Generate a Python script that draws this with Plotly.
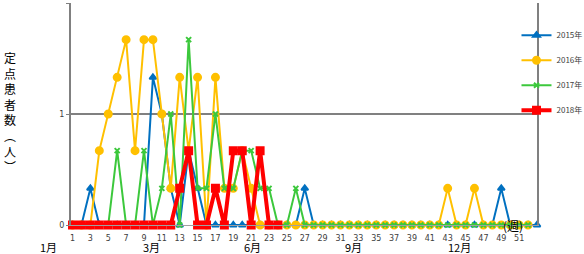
import plotly.graph_objects as go

weeks = list(range(1, 54))
series_names = ["2015年", "2016年", "2017年", "2018年"]

v2015 = [0, 0, 0.33, 0, 0, 0, 0, 0, 0, 1.33, 1.0, 0.33, 0, 0.67, 0.33, 0, 0, 0, 0, 0,
         0, 0, 0, 0, 0, 0, 0.33, 0, 0, 0, 0, 0, 0, 0, 0, 0, 0, 0, 0, 0,
         0, 0, 0, 0, 0, 0, 0, 0, 0.33, 0, 0, 0, 0]
v2016 = [0, 0, 0, 0.67, 1.0, 1.33, 1.67, 0.67, 1.67, 1.67, 1.0, 0.33, 1.33, 0.67, 1.33, 0, 1.33, 0.33, 0.33, 0.67,
         0.33, 0, 0, 0, 0, 0, 0, 0, 0, 0, 0, 0, 0, 0, 0, 0, 0, 0, 0, 0,
         0, 0, 0.33, 0, 0, 0.33, 0, 0, 0, 0, 0, 0]
v2017 = [0, 0, 0, 0, 0, 0.67, 0, 0, 0.67, 0, 0.33, 1.0, 0, 1.67, 0.33, 0.33, 1.0, 0.33, 0.33, 0.67,
         0.67, 0.33, 0.33, 0, 0, 0.33, 0, 0, 0, 0, 0, 0, 0, 0, 0, 0, 0, 0, 0, 0,
         0, 0, 0, 0, 0, 0, 0, 0, 0, 0, 0, 0]
v2018 = [0, 0, 0, 0, 0, 0, 0, 0, 0, 0, 0, 0, 0.33, 0.67, 0, 0, 0.33, 0, 0.67, 0.67,
         0, 0.67, 0, 0]

week_ticks = list(range(1, 52, 2))
month_labels = ["1月", "3月", "6月", "9月", "12月"]
month_pos = [-0.049, 0.172, 0.389, 0.607, 0.834]
yticks = [0, 1, 2]

colors = ["#0070C0", "#FFC000", "#3CC83C", "#FF0000"]
symbols = ["triangle-up", "circle", "x-thin-open", "square"]
msizes = [6, 7, 5, 7]
lwidths = [2, 2, 2, 4]
values = [v2015, v2016, v2017, v2018]

fig = go.Figure()
for name, vals, c, s, ms, lw in zip(series_names, values, colors, symbols, msizes, lwidths):
    fig.add_trace(go.Scatter(
        x=weeks[:len(vals)], y=vals, name=name, mode="lines+markers",
        line=dict(color=c, width=lw),
        marker=dict(symbol=s, size=ms, color=c, line=dict(color=c, width=2)),
        legendgroup=name, cliponaxis=False,
    ))

annotations = []
for lab, p in zip(month_labels, month_pos):
    annotations.append(dict(x=p, y=0, xref="paper", yref="paper", yshift=-22,
                            yanchor="middle", xanchor="center",
                            text=lab, showarrow=False,
                            font=dict(size=11, color="#000000",
                                      family="Noto Sans CJK JP")))
annotations.append(dict(x=50.3, y=0, xref="x", yref="y", text="(週)", showarrow=False,
                        font=dict(size=12, color="#000000", family="Noto Sans CJK JP")))
annotations.append(dict(xref="paper", yref="paper", x=-0.148, y=0.51,
                        text="定<br>点<br>患<br>者<br>数<br>︵<br>人<br>︶",
                        showarrow=False, align="center",
                        font=dict(size=12, color="#000000", family="Noto Sans CJK JP")))

fig.update_layout(
    width=584, height=254,
    margin=dict(l=71, r=47, t=3, b=29, autoexpand=False),
    paper_bgcolor="white", plot_bgcolor="white",
    showlegend=True,
    legend=dict(x=0.956, y=0.92, xanchor="left", yanchor="top",
                bgcolor="rgba(0,0,0,0)", tracegroupgap=6,
                font=dict(size=8, color="#404040", family="Noto Sans CJK JP")),
    xaxis=dict(range=[0.83, 53], tickmode="array", tickvals=week_ticks,
               ticktext=[str(w) for w in week_ticks], showgrid=False,
               showline=True, linecolor="#A0A0A0", linewidth=1, zeroline=False,
               tickfont=dict(size=8, color="#404040", family="DejaVu Sans"),
               ticks="", ticklabelstandoff=5),
    yaxis=dict(range=[0, 2], tickmode="array", tickvals=yticks,
               ticktext=[str(t) for t in yticks],
               showgrid=True, gridcolor="#808080", gridwidth=2,
               showline=True, mirror=True, linecolor="#808080", linewidth=2,
               zeroline=False, ticks="outside", ticklen=3, tickcolor="#808080",
               tickfont=dict(size=8, color="#404040", family="DejaVu Sans")),
    annotations=annotations,
)

fig.write_html("out.html")
